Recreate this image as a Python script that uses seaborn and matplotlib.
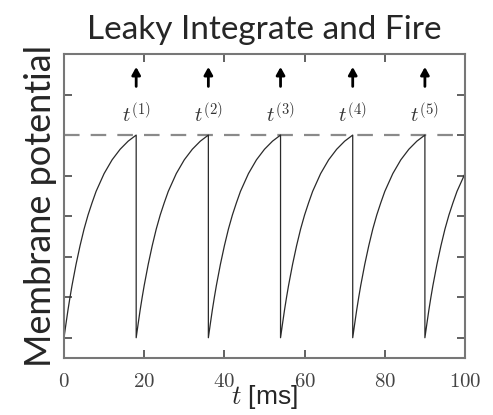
import numpy as np
import pandas as pd
import matplotlib
matplotlib.use("Agg")
import matplotlib.pyplot as plt
import seaborn as sns

# ---- data ----
spike_times = [18, 36, 54, 72, 90]          # ms
cycle_starts = [0, 18, 36, 54, 72, 90]      # ms (reset instants)
# one charging cycle (offset in ms after reset, membrane potential in tick units)
cycle_offset = [0, 0.5, 1, 1.5, 2, 3, 4, 5, 6, 7, 8, 10, 12, 14, 16, 18]
cycle_v      = [0, 0.35, 0.69, 1.0, 1.29, 1.81, 2.27, 2.68, 3.03, 3.33, 3.61, 4.05, 4.39, 4.65, 4.85, 5.0]
threshold = 5.0
t_end = 100
spike_labels = ["$t^{(1)}$", "$t^{(2)}$", "$t^{(3)}$", "$t^{(4)}$", "$t^{(5)}$"]
xticks = [0, 20, 40, 60, 80, 100]
yticks = [0, 1, 2, 3, 4, 5, 6]

# build the trace from the cycle samples
t_all, v_all = [], []
for s in cycle_starts:
    for o, v in zip(cycle_offset, cycle_v):
        if s + o <= t_end:
            t_all.append(s + o)
            v_all.append(v)
df = pd.DataFrame({"t": t_all, "v": v_all})

sns.set_style("ticks")
plt.rcParams["mathtext.fontset"] = "cm"
plt.rcParams["font.family"] = ["Lato", "DejaVu Sans"]

fig = plt.figure(figsize=(4.93, 4.15), dpi=100)
ax = fig.add_axes([64 / 493, 1 - 358 / 415, 401 / 493, 304 / 415])

sns.lineplot(data=df, x="t", y="v", sort=False, estimator=None,
             color="#2a2a2a", lw=0.9, ax=ax)
ax.axhline(threshold, color="#8a8a8a", lw=1.6, dashes=(7, 5), zorder=1)

for st, lab in zip(spike_times, spike_labels):
    ax.annotate("", xy=(st, 6.68), xytext=(st, 6.2),
                arrowprops=dict(arrowstyle="-|>,head_length=0.45,head_width=0.25",
                                color="black", lw=2.0, shrinkA=0, shrinkB=0))
    ax.text(st, 5.52, lab, ha="center", va="center", fontsize=15, color="#333333")

ax.set_xlim(0, 100)
ax.set_ylim(-0.5, 7)
ax.set_xticks(xticks)
ax.set_xticklabels([f"${x}$" for x in xticks], fontsize=15, color="#444444")
ax.set_yticks(yticks)
ax.set_yticklabels([])
ax.tick_params(direction="in", length=6, width=1.3, color="#555555",
               top=True, right=True, pad=9)
for sp in ax.spines.values():
    sp.set_color("#777777")
    sp.set_linewidth(1.5)

ax.set_xlabel("$t$ [ms]", fontsize=19,
              fontfamily=["Liberation Sans", "DejaVu Sans"])
ax.xaxis.set_label_coords(0.5, -0.082)
ax.set_ylabel("Membrane potential", fontsize=26, labelpad=-4)
ax.set_title("Leaky Integrate and Fire", fontsize=24, pad=11)

fig.savefig("out.png", dpi=100)
